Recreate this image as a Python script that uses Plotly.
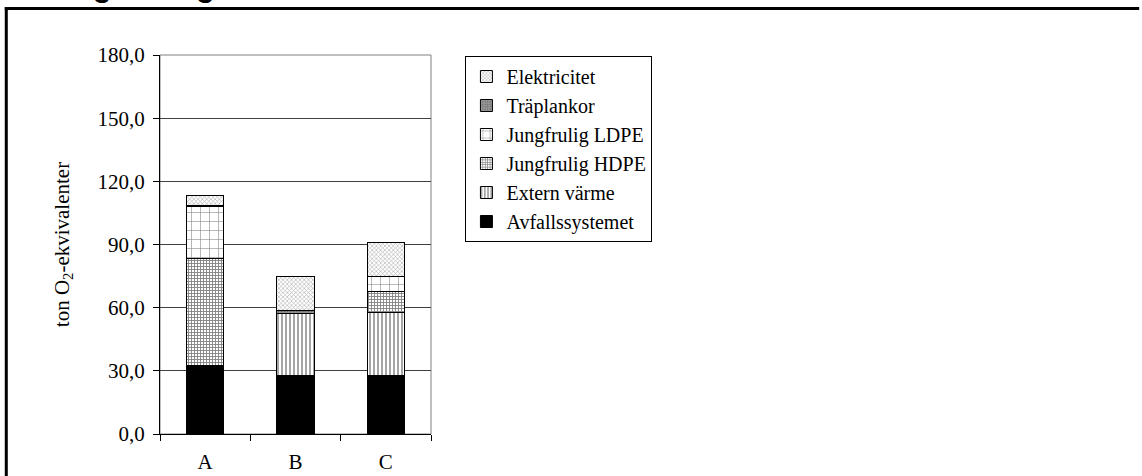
import plotly.graph_objects as go

categories = ["A", "B", "C"]
avfallssystemet = [32.3, 28.0, 28.0]
extern_varme = [None, 29.3, 29.6]
jungfrulig_hdpe = [51.0, None, 10.3]
jungfrulig_ldpe = [24.7, None, 7.1]
traplankor = [0.7, 1.5, None]
elektricitet = [4.5, 15.9, 16.0]

y_ticks = [0, 30, 60, 90, 120, 150, 180]

# layout geometry (pixels)
W, H = 1142, 476
L, R, T, B = 160, 431.5, 55, 434
pw, ph = R - L, B - T


def px(x):
    return (x - L) / pw


def py(y):
    return (B - y) / ph


serif = "Liberation Serif, Times New Roman, serif"

series = [
    ("Avfallssystemet", avfallssystemet, dict(color="black")),
    ("Extern värme", extern_varme, dict(color="white", pattern=dict(shape="|", size=4, solidity=0.35, fgcolor="black", bgcolor="white"))),
    ("Jungfrulig HDPE", jungfrulig_hdpe, dict(color="white", pattern=dict(shape="+", size=3, solidity=0.5, fgcolor="black", bgcolor="white"))),
    ("Jungfrulig LDPE", jungfrulig_ldpe, dict(color="white", pattern=dict(shape="+", size=9, solidity=0.12, fgcolor="black", bgcolor="white"))),
    ("Träplankor", traplankor, dict(color="#808080", pattern=dict(shape=".", size=3, solidity=0.4, fgcolor="#404040", bgcolor="#9a9a9a"))),
    ("Elektricitet", elektricitet, dict(color="white", pattern=dict(shape="x", size=3, solidity=0.35, fgcolor="#555555", bgcolor="white"))),
]

fig = go.Figure()
for i, (name, vals, mk) in enumerate(series):
    mk = dict(mk)
    mk["line"] = dict(color="black", width=1)
    fig.add_trace(go.Bar(x=categories, y=vals, name=name, marker=mk, width=0.41))

shapes = [
    # plot area border
    dict(type="rect", xref="paper", yref="paper", x0=0, x1=1, y0=0, y1=1,
         line=dict(color="#808080", width=1), fillcolor="rgba(0,0,0,0)", layer="below"),
    # outer frame top
    dict(type="line", xref="paper", yref="paper", x0=px(4.5), x1=px(1141), y0=py(8.5), y1=py(8.5),
         line=dict(color="black", width=3)),
    # outer frame left
    dict(type="line", xref="paper", yref="paper", x0=px(6), x1=px(6), y0=py(7), y1=py(480),
         line=dict(color="black", width=3)),
]

fig.update_layout(
    width=W, height=H,
    margin=dict(l=L, r=W - R, t=T, b=H - B, autoexpand=False),
    paper_bgcolor="white", plot_bgcolor="white",
    barmode="stack",
    bargap=0.59,
    font=dict(family=serif, size=21, color="black"),
    showlegend=True,
    legend=dict(
        x=px(466), y=py(56), xanchor="left", yanchor="top",
        traceorder="reversed",
        bordercolor="black", borderwidth=1, bgcolor="white",
        font=dict(family=serif, size=20, color="black"),
    ),
    shapes=shapes,
    annotations=[
        dict(text="<b>Övergödning</b>", xref="paper", yref="paper",
             x=px(20), y=py(-15), xanchor="left", yanchor="middle",
             showarrow=False, font=dict(family="Liberation Sans, Arial, sans-serif", size=31, color="black")),
    ],
    xaxis=dict(
        type="category", tickson="boundaries", ticks="outside", ticklen=6,
        tickcolor="black", showline=True, linecolor="black", linewidth=1,
        showgrid=False, tickfont=dict(family=serif, size=21), ticklabelstandoff=9,
    ),
    yaxis=dict(
        range=[0, 180], tickvals=y_ticks, tickformat=".1f",
        ticks="outside", ticklen=6, tickcolor="black",
        showline=True, linecolor="black", linewidth=1,
        showgrid=True, gridcolor="#404040", gridwidth=1,
        tickfont=dict(family=serif, size=21), ticklabelstandoff=4,
        title=dict(text="ton O<sub>2</sub>-ekvivalenter", font=dict(family=serif, size=21), standoff=22),
        zeroline=False,
    ),
    separators=",.",
)

fig.write_html("out.html")
